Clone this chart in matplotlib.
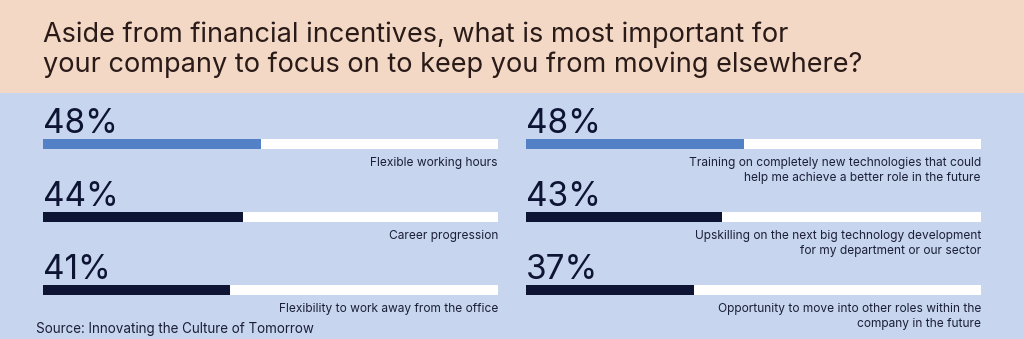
import matplotlib.pyplot as plt
from matplotlib.patches import Rectangle

plt.rcParams['font.family'] = ['Inter', 'DejaVu Sans']

title = "Aside from financial incentives, what is most important for\nyour company to focus on to keep you from moving elsewhere?"
source = "Source: Innovating the Culture of Tomorrow"

left_labels = ["Flexible working hours",
               "Career progression",
               "Flexibility to work away from the office"]
left_values = [48, 44, 41]

right_labels = ["Training on completely new technologies that could\nhelp me achieve a better role in the future",
                "Upskilling on the next big technology development\nfor my department or our sector",
                "Opportunity to move into other roles within the\ncompany in the future"]
right_values = [48, 43, 37]

PEACH = "#F3D8C5"
BG = "#C8D5EE"
BLUE = "#5282C5"
NAVY = "#0D1434"
TEXT = "#1B1F38"
W, H = 1024, 339

fig = plt.figure(figsize=(W / 100, H / 100), dpi=100)
fig.patch.set_facecolor(BG)
fig.add_artist(Rectangle((0, 1 - 93 / H), 1, 93 / H, transform=fig.transFigure,
                         facecolor=PEACH, edgecolor='none', zorder=0))

# multi-line baseline sits on the last line
fig.text(43 / W, 1 - 72 / H, title, fontsize=19.5, color="#2A1B18",
         va='baseline', ha='left', linespacing=1.18)
fig.text(36 / W, 1 - 333 / H, source, fontsize=9.7, color=TEXT, va='baseline')


def panel(x0, labels, values):
    # axes spans the bar track, rows 73px apart
    top, bottom = 107.5, 326.5
    ax = fig.add_axes([x0 / W, 1 - bottom / H, 455 / W, (bottom - top) / H])
    ax.set_xlim(0, 100)
    ax.set_ylim(len(values) - 0.5, -0.5)
    ax.axis('off')
    ys = list(range(len(values)))
    bh = 10 / 73
    ax.barh(ys, [100] * len(values), height=bh, color='white', zorder=1)
    colors = [BLUE] + [NAVY] * (len(values) - 1)
    ax.barh(ys, values, height=bh, color=colors, zorder=2)
    for y, v, lab in zip(ys, values, labels):
        ax.text(0, y - 11 / 73, f"{v}%", fontsize=24,
                color=NAVY, va='baseline', ha='left')
        ax.text(100, y + 13 / 73, lab, fontsize=8.6, color=TEXT,
                va='top', ha='right', linespacing=1.38)
    return ax


panel(43, left_labels, left_values)
panel(526, right_labels, right_values)

fig.savefig("out.png", dpi=100, facecolor=fig.get_facecolor())
